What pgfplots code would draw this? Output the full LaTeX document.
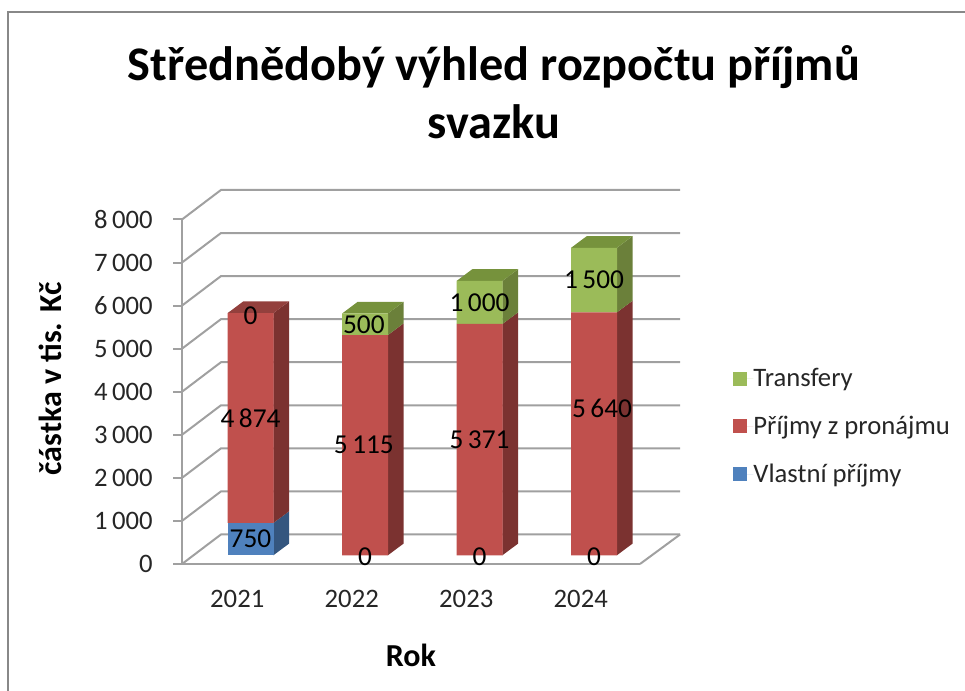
\documentclass[border=0pt]{standalone}
\usepackage{pgfplots}
\pgfplotsset{compat=1.18}
\usepackage{fontspec}
\setmainfont{Carlito}
\definecolor{cblue}{HTML}{4F81BD}
\definecolor{cred}{HTML}{C0504D}
\definecolor{cgreen}{HTML}{9BBB59}
\definecolor{blueside}{HTML}{34567F}
\definecolor{redside}{HTML}{7B3230}
\definecolor{redtop}{HTML}{93403D}
\definecolor{greenside}{HTML}{6B803A}
\definecolor{greentop}{HTML}{76923C}
\definecolor{gridc}{HTML}{A0A0A0}
\newcommand{\sideface}[4]{\addplot[fill=#1,draw=none,forget plot] coordinates {(#2+0.2,#3) (#2+0.337,#3+272) (#2+0.337,#4+272) (#2+0.2,#4)};}
\newcommand{\topface}[3]{\addplot[fill=#1,draw=none,forget plot] coordinates {(#2-0.2,#3) (#2-0.063,#3+272) (#2+0.337,#3+272) (#2+0.2,#3)};}
\newcommand{\gridline}[1]{\addplot[gridc,line width=1.5pt,forget plot] coordinates {(-0.5,#1) (-0.16,#1+685) (3.85,#1+685)};}
\pgfplotsset{base/.style={scale only axis,width=343.5pt,height=258.375pt,xmin=-0.5,xmax=3.5,ymin=0,ymax=8000,clip=false}}
\begin{document}
\begin{tikzpicture}
\useasboundingbox (0,0) rectangle (723.75pt,518.25pt);
\draw[gridc!85!black,line width=1.4pt] (6pt,0) -- (6pt,509pt) -- (723.75pt,509pt);
% back wall, floor, axes
\begin{axis}[base,at={(136.5pt,95.25pt)},anchor=south west,
  axis lines=left, axis line style={-,gridc,line width=1.5pt},
  xtick={0,1,2,3},xticklabels={2021,2022,2023,2024},
  minor xtick={-0.5,0.5,1.5,2.5,3.5},
  ytick={0,1000,2000,3000,4000,5000,6000,7000,8000},
  tick align=outside,major tick length=6.5pt,minor tick length=6.5pt,
  xtick style={draw=none},
  minor tick style={gridc,line width=1.5pt},
  ytick style={gridc,line width=1.5pt},
  tick label style={font=\fontsize{20}{24}\selectfont,text=black!85},
  x tick label style={yshift=-9.5pt,xshift=-1.5pt},
  /pgf/number format/assume math mode=true,
  /pgf/number format/1000 sep={\,},
  y tick label style={/pgf/number format/fixed,xshift=-12pt},
  xlabel={\textbf{Rok}},ylabel={\textbf{částka v tis. Kč}},
  label style={font=\fontsize{24}{28}\selectfont},
  xlabel style={at={(axis description cs:0.5,-0.265)},anchor=center},
  ylabel style={at={(axis description cs:-0.288,0.537)},anchor=center,rotate=0},
  title={Střednědobý výhled rozpočtu příjmů\\svazku},
  title style={font=\fontsize{36.2}{43.5}\selectfont\bfseries,align=center,at={(axis description cs:0.681,1.0)},anchor=south,yshift=51pt}]
\gridline{0}\gridline{1000}\gridline{2000}\gridline{3000}\gridline{4000}\gridline{5000}\gridline{6000}\gridline{7000}\gridline{8000}
\addplot[gridc,line width=1.5pt,forget plot] coordinates {(3.5,0) (3.85,685)};
\end{axis}
% bar sides and tops
\begin{axis}[base,hide axis,at={(144.94pt,101.78pt)},anchor=south west]
\sideface{blueside}{0}{0}{750}
\sideface{redside}{0}{750}{5624}
\topface{redtop}{0}{5624}
\sideface{redside}{1}{0}{5115}
\sideface{greenside}{1}{5115}{5615}
\topface{greentop}{1}{5615}
\sideface{redside}{2}{0}{5371}
\sideface{greenside}{2}{5371}{6371}
\topface{greentop}{2}{6371}
\sideface{redside}{3}{0}{5640}
\sideface{greenside}{3}{5640}{7140}
\topface{greentop}{3}{7140}
\end{axis}
% bar fronts and legend
\begin{axis}[base,hide axis,at={(144.94pt,101.78pt)},anchor=south west,
  ybar stacked,bar width=34.5pt,
  reverse legend,
  legend style={draw=none,fill=none,at={(1.178,0.374)},anchor=west,inner sep=0pt,outer sep=0pt,
    font=\fontsize{20}{24}\selectfont,row sep=20.5pt,
    nodes={inner sep=0pt,text=black!85}},
  legend cell align=left,
  legend image code/.code={\fill[#1] (0pt,-5.25pt) rectangle (10.5pt,5.25pt);\path (0pt,0pt) -- (15.5pt,0pt);}]
\addplot[fill=cblue,draw=none] coordinates {(0,750) (1,0) (2,0) (3,0)};
\addlegendentry{Vlastní příjmy}
\addplot[fill=cred,draw=none] coordinates {(0,4874) (1,5115) (2,5371) (3,5640)};
\addlegendentry{Příjmy z pronájmu}
\addplot[fill=cgreen,draw=none] coordinates {(0,0) (1,500) (2,1000) (3,1500)};
\addlegendentry{Transfery}
\end{axis}
% data labels
\begin{axis}[base,hide axis,at={(144.94pt,101.78pt)},anchor=south west]
\addplot[only marks,mark=none,point meta=explicit symbolic,
  nodes near coords,
  every node near coord/.style={anchor=center,inner sep=0pt,font=\fontsize{20.5}{24}\selectfont,text=black}]
  coordinates {
  (0,375)[750] (0,3187)[4\,874] (0,5557)[0]
  (1,-40)[0] (0.99,2557)[5\,115] (0.99,5365)[500]
  (2,-40)[0] (2,2685)[5\,371] (2,5871)[1\,000]
  (3,-40)[0] (3.07,3420)[5\,640] (3,6390)[1\,500]
  };
\end{axis}
\end{tikzpicture}
\end{document}
